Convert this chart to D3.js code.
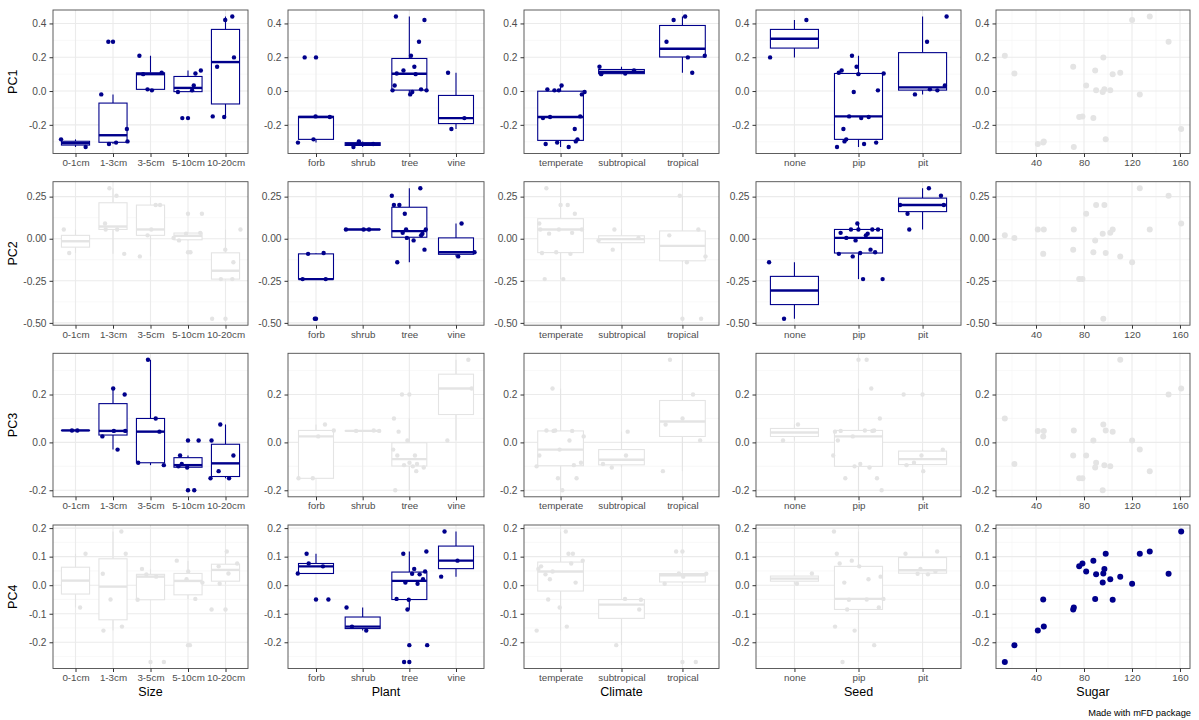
<!DOCTYPE html>
<html>
<head>
<meta charset="utf-8">
<script src="https://cdn.jsdelivr.net/npm/d3@7"></script>
<style>
  body { margin: 0; background: #fff; }
  text { font-family: 'Liberation Sans', Arial, sans-serif; }
</style>
</head>
<body>
<svg width="1199" height="720"></svg>
<script>
// one entry per fruit, same order in every array
const fruit = ['lime', 'lemon', 'raspberry', 'blackberry', 'strawberry', 'grapefruit', 'currant',
  'melon', 'water_melon', 'peach', 'kiwifruit', 'orange', 'apricot', 'pear', 'pineapple', 'plum',
  'blueberry', 'apple', 'tangerine', 'passion_fruit', 'banana', 'cherry', 'mango', 'litchi', 'grape']
const size = ['3-5cm', '5-10cm', '1-3cm', '1-3cm', '1-3cm', '10-20cm', '0-1cm',
  '10-20cm', '10-20cm', '5-10cm', '5-10cm', '5-10cm', '3-5cm', '5-10cm', '10-20cm', '3-5cm',
  '0-1cm', '5-10cm', '3-5cm', '3-5cm', '10-20cm', '1-3cm', '10-20cm', '1-3cm', '1-3cm']
const plant = ['tree', 'tree', 'shrub', 'shrub', 'forb', 'tree', 'shrub',
  'forb', 'forb', 'tree', 'vine', 'tree', 'tree', 'tree', 'forb', 'tree',
  'forb', 'tree', 'tree', 'vine', 'tree', 'tree', 'tree', 'tree', 'vine']
const climate = ['tropical', 'subtropical', 'temperate', 'temperate', 'temperate', 'subtropical', 'temperate',
  'temperate', 'temperate', 'temperate', 'temperate', 'subtropical', 'temperate', 'temperate', 'tropical', 'temperate',
  'temperate', 'temperate', 'subtropical', 'tropical', 'tropical', 'temperate', 'tropical', 'tropical', 'temperate']
const seed = ['pip', 'pip', 'pip', 'pip', 'pip', 'pip', 'pip',
  'pip', 'pip', 'pit', 'pip', 'pip', 'pit', 'pip', 'none', 'pit',
  'pip', 'pip', 'pip', 'pip', 'none', 'pit', 'pit', 'pit', 'pip']
const sugar = [14, 22, 41.5, 46.5, 46, 71, 71.5,
  76, 78.7, 81.8, 87.8, 89.3, 90.1, 95.6, 96.1, 97,
  98.1, 101.9, 103.9, 110.2, 120.1, 126.5, 134.8, 150.5, 161]

const pc1 = [0.209, 0.104, -0.313, -0.298, -0.305, 0.144, -0.331,
  -0.154, -0.15, 0.033, -0.16, 0.122, 0.004, -0.006, 0.199, 0.01,
  -0.286, 0.004, 0.1, 0.108, 0.42, -0.02, 0.441, 0.292, -0.225]
const pc2 = [0.02, 0.005, 0.055, 0.055, -0.09, -0.065, 0.055,
  -0.24, -0.24, 0.148, -0.08, -0.01, 0.2, 0.03, -0.475, 0.2,
  -0.085, 0.035, 0.055, -0.105, -0.14, 0.3, 0.055, 0.255, 0.09]
const pc3 = [0.1, -0.09, 0.048, 0.048, 0.025, -0.055, 0.05,
  -0.15, -0.15, -0.055, 0.008, -0.105, -0.085, -0.2, 0.075, -0.095,
  0.05, -0.1, 0.045, 0.345, 0.008, -0.03, -0.12, 0.2, 0.225]
const pc4 = [-0.269, -0.21, -0.159, -0.145, -0.05, -0.085, -0.078,
  0.066, 0.076, 0.048, 0.086, -0.048, 0.038, 0.009, 0.041, 0.057,
  0.11, 0.021, -0.051, 0.03, 0.005, 0.11, 0.118, 0.04, 0.188]

const sizeLevels = ['0-1cm', '1-3cm', '3-5cm', '5-10cm', '10-20cm']
const plantLevels = ['forb', 'shrub', 'tree', 'vine']
const climateLevels = ['temperate', 'subtropical', 'tropical']
const seedLevels = ['none', 'pip', 'pit']
const sugarTicks = [40, 80, 120, 160]

const pc1Ticks = [-0.2, 0, 0.2, 0.4]
const pc2Ticks = [-0.5, -0.25, 0, 0.25]
const pc3Ticks = [-0.2, 0, 0.2]
const pc4Ticks = [-0.2, -0.1, 0, 0.1, 0.2]

// which trait is linked to which axis (row = PC, column = trait)
const highlight = [
  [1, 1, 1, 1, 0],
  [0, 1, 0, 1, 0],
  [1, 0, 0, 0, 0],
  [0, 1, 0, 0, 1]
]

const svg = d3.select('svg')
const locale = d3.formatLocale({ decimal: '.', thousands: ',', grouping: [3], currency: ['', ''], minus: '-' })

const traits = [
  { name: 'Size', values: size, levels: sizeLevels },
  { name: 'Plant', values: plant, levels: plantLevels },
  { name: 'Climate', values: climate, levels: climateLevels },
  { name: 'Seed', values: seed, levels: seedLevels },
  { name: 'Sugar', values: sugar, ticks: sugarTicks }
]
const axes = [
  { name: 'PC1', values: pc1, ticks: pc1Ticks, fmt: locale.format('.1f') },
  { name: 'PC2', values: pc2, ticks: pc2Ticks, fmt: locale.format('.2f') },
  { name: 'PC3', values: pc3, ticks: pc3Ticks, fmt: locale.format('.1f') },
  { name: 'PC4', values: pc4, ticks: pc4Ticks, fmt: locale.format('.1f') }
]

// panel frame
const colLeft = [53, 288, 524, 756, 996]
const colRight = [248, 484, 719, 961, 1190]
const rowTop = [10, 181.7, 353.3, 525]
const panelH = 143.5

const navy = '#00008B'
const pale = '#E4E4E4'

function expand (ext, m) {
  const pad = (ext[1] - ext[0]) * m
  return [ext[0] - pad, ext[1] + pad]
}

function minorOf (ticks, dom) {
  const step = ticks[1] - ticks[0]
  const out = []
  for (let i = -1; i < ticks.length; i++) {
    const v = (i < 0 ? ticks[0] - step : ticks[i]) + step / 2
    if (v > dom[0] && v < dom[1]) out.push(v)
  }
  return out
}

function boxStats (vals) {
  const s = vals.slice().sort(d3.ascending)
  const q1 = d3.quantile(s, 0.25)
  const med = d3.quantile(s, 0.5)
  const q3 = d3.quantile(s, 0.75)
  const iqr = q3 - q1
  const inside = s.filter(v => v >= q1 - 1.5 * iqr && v <= q3 + 1.5 * iqr)
  return {
    q1, med, q3,
    lo: d3.min(inside),
    hi: d3.max(inside),
    out: s.filter(v => v < q1 - 1.5 * iqr || v > q3 + 1.5 * iqr)
  }
}

// fixed horizontal spread for the jittered points
function spread (i, r, c) {
  const v = (i * 0.618034 + r * 0.2719 + c * 0.4142 + 0.13) % 1
  return (v * 2 - 1) * 0.4
}

axes.forEach((pc, r) => {
  const top = rowTop[r]
  const bottom = top + panelH
  const yDom = expand(d3.extent(pc.values), 0.05)
  const y = d3.scaleLinear().domain(yDom).range([bottom, top])

  traits.forEach((tr, c) => {
    const left = colLeft[c]
    const right = colRight[c]
    const col = highlight[r][c] ? navy : pale
    const g = svg.append('g')
    const numeric = !tr.levels

    const x = numeric
      ? d3.scaleLinear().domain(expand(d3.extent(tr.values), 0.05)).range([left, right])
      : d3.scaleLinear().domain([0.4, tr.levels.length + 0.6]).range([left, right])

    // grid
    const grid = g.append('g')
    minorOf(pc.ticks, yDom).forEach(v => {
      grid.append('line').attr('x1', left).attr('x2', right).attr('y1', y(v)).attr('y2', y(v))
        .attr('stroke', '#F3F3F3').attr('stroke-width', 0.6)
    })
    if (numeric) {
      minorOf(tr.ticks, x.domain()).forEach(v => {
        grid.append('line').attr('y1', top).attr('y2', bottom).attr('x1', x(v)).attr('x2', x(v))
          .attr('stroke', '#F3F3F3').attr('stroke-width', 0.6)
      })
    }
    pc.ticks.forEach(v => {
      grid.append('line').attr('x1', left).attr('x2', right).attr('y1', y(v)).attr('y2', y(v))
        .attr('stroke', '#EBEBEB').attr('stroke-width', 1.1)
    })
    const xMajor = numeric ? tr.ticks : tr.levels.map((d, k) => k + 1)
    xMajor.forEach(v => {
      grid.append('line').attr('y1', top).attr('y2', bottom).attr('x1', x(v)).attr('x2', x(v))
        .attr('stroke', '#EBEBEB').attr('stroke-width', 1.1)
    })

    if (numeric) {
      g.selectAll('circle.pt')
        .data(pc.values)
        .enter().append('circle')
        .attr('class', 'pt')
        .attr('cx', (d, i) => x(tr.values[i]))
        .attr('cy', d => y(d))
        .attr('r', 3)
        .style('fill', col)
    } else {
      const half = 0.375
      tr.levels.forEach((lev, k) => {
        const vals = pc.values.filter((d, i) => tr.values[i] === lev)
        const b = boxStats(vals)
        const cx = x(k + 1)
        const bg = g.append('g')
        bg.append('line').attr('x1', cx).attr('x2', cx).attr('y1', y(b.q3)).attr('y2', y(b.hi))
          .attr('stroke', col).attr('stroke-width', 1.1)
        bg.append('line').attr('x1', cx).attr('x2', cx).attr('y1', y(b.q1)).attr('y2', y(b.lo))
          .attr('stroke', col).attr('stroke-width', 1.1)
        bg.append('rect')
          .attr('x', x(k + 1 - half)).attr('width', x(k + 1 + half) - x(k + 1 - half))
          .attr('y', y(b.q3)).attr('height', Math.max(0.01, y(b.q1) - y(b.q3)))
          .attr('fill', '#fff').attr('stroke', col).attr('stroke-width', 1.1)
        bg.append('line')
          .attr('x1', x(k + 1 - half)).attr('x2', x(k + 1 + half))
          .attr('y1', y(b.med)).attr('y2', y(b.med))
          .attr('stroke', col).attr('stroke-width', 2.4)
        b.out.forEach(v => {
          bg.append('circle').attr('cx', cx).attr('cy', y(v)).attr('r', 2.2).style('fill', col)
        })
      })
      g.selectAll('circle.pt')
        .data(pc.values)
        .enter().append('circle')
        .attr('class', 'pt')
        .attr('cx', (d, i) => x(tr.levels.indexOf(tr.values[i]) + 1 + spread(i, r, c)))
        .attr('cy', d => y(d))
        .attr('r', 2.2)
        .style('fill', col)
    }

    // border
    g.append('rect')
      .attr('x', left).attr('y', top).attr('width', right - left).attr('height', panelH)
      .attr('fill', 'none').attr('stroke', '#4D4D4D').attr('stroke-width', 0.9)

    // y axis
    const ya = g.append('g').attr('transform', `translate(${left},0)`)
      .call(d3.axisLeft(y).tickValues(pc.ticks).tickFormat(pc.fmt).tickSize(3.5).tickPadding(3))
    // x axis
    const xa = g.append('g').attr('transform', `translate(0,${bottom})`)
      .call(numeric
        ? d3.axisBottom(x).tickValues(tr.ticks).tickFormat(d3.format('d')).tickSize(3.5).tickPadding(2)
        : d3.axisBottom(x).tickValues(tr.levels.map((d, k) => k + 1)).tickFormat(k => tr.levels[k - 1]).tickSize(3.5).tickPadding(2))
    ;[ya, xa].forEach(a => {
      a.select('.domain').remove()
      a.selectAll('.tick line').attr('stroke', '#333')
      a.selectAll('.tick text').attr('fill', '#4D4D4D')
    })
    ya.selectAll('.tick text').style('font-size', '10.2px')
    xa.selectAll('.tick text').style('font-size', '9.8px')

    if (c === 0) {
      svg.append('text')
        .attr('transform', `translate(17,${top + panelH / 2}) rotate(-90)`)
        .attr('text-anchor', 'middle')
        .style('font-size', '12.5px')
        .style('fill', '#000')
        .text(pc.name)
    }
    if (r === axes.length - 1) {
      svg.append('text')
        .attr('x', (left + right) / 2)
        .attr('y', bottom + 27)
        .attr('text-anchor', 'middle')
        .style('font-size', '12.5px')
        .style('fill', '#000')
        .text(tr.name)
    }
  })
})

svg.append('text')
  .attr('x', 1191)
  .attr('y', 716)
  .attr('text-anchor', 'end')
  .style('font-size', '9.3px')
  .style('fill', '#000')
  .text('Made with mFD package')
</script>
</body>
</html>
